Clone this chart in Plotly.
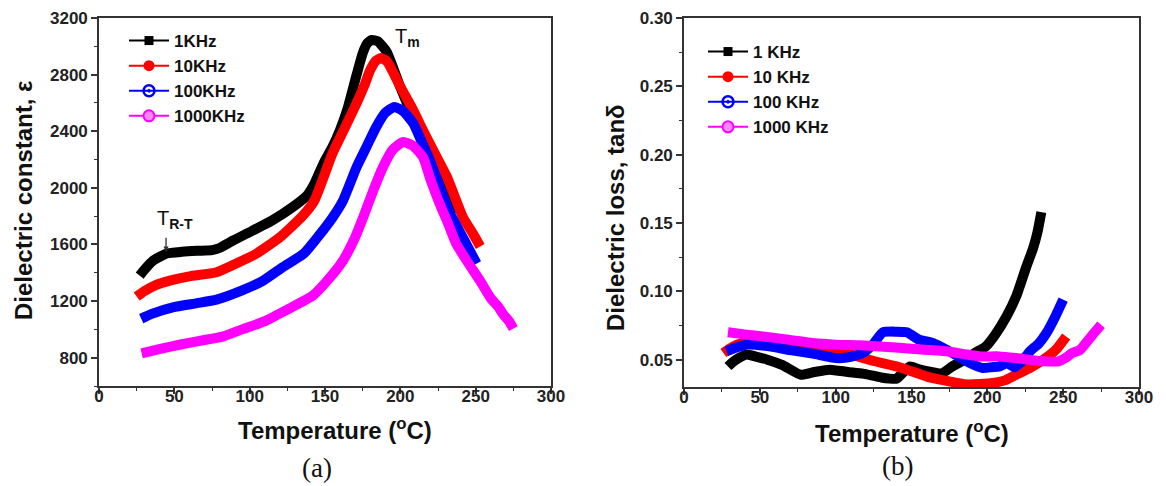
import plotly.graph_objects as go

# ---------------- data: (a) dielectric constant ----------------
t_eps_1k = [27, 30, 36, 45, 55, 65, 75, 80, 89, 100, 115, 128, 138, 143, 149, 155, 160, 165, 170, 175, 178, 181, 185, 191, 200, 207, 215, 225, 236]
eps_1k = [1380, 1420, 1487, 1536, 1548, 1555, 1560, 1575, 1628, 1687, 1770, 1860, 1945, 2030, 2173, 2290, 2410, 2560, 2760, 2950, 3020, 3045, 3035, 2960, 2711, 2530, 2330, 2080, 1820]

t_eps_10k = [25, 30, 38, 47, 60, 78, 90, 104.6, 120, 135, 143, 155, 163, 171, 176, 180, 184, 187, 191, 196, 200, 208, 215, 223, 231, 241.5, 248, 253]
eps_10k = [1232, 1270, 1315, 1345, 1375, 1404, 1460, 1536, 1650, 1800, 1911, 2244, 2420, 2598, 2720, 2832, 2900, 2917, 2895, 2800, 2714, 2560, 2407, 2240, 2076, 1793, 1680, 1586]

t_eps_100k = [28, 35, 49, 65, 78, 95, 109, 122, 136, 145, 155, 162, 171, 178, 184, 190, 196, 202, 208.6, 214, 219.6, 226, 233, 242, 250.6]
eps_100k = [1076, 1110, 1156, 1185, 1210, 1275, 1345, 1440, 1536, 1650, 1790, 1911, 2147, 2300, 2430, 2530, 2572, 2540, 2455, 2330, 2195, 2010, 1819, 1640, 1465]

t_eps_1000k = [28.3, 40, 55, 70, 82, 95, 111, 125, 142, 152, 162, 170, 175.4, 182, 188.5, 195, 201.8, 208, 215, 220, 226, 232, 237, 245, 252.8, 260, 265, 268, 272, 275]
eps_1000k = [830, 860, 895, 925, 949, 1000, 1062, 1140, 1239, 1350, 1487, 1650, 1793, 1980, 2147, 2270, 2324, 2300, 2218, 2060, 1890, 1740, 1607, 1470, 1345, 1220, 1160, 1111, 1060, 1005]

# ---------------- data: (b) dielectric loss ----------------
t_tan_1k = [29, 33, 41, 48, 55, 65, 77, 86, 96, 108, 118, 130, 140, 143, 149, 155, 163, 170, 177, 185, 192, 199, 205, 212.6, 219, 225.7, 230, 233, 235.6]
tan_1k = [0.045, 0.049, 0.0537, 0.052, 0.050, 0.046, 0.039, 0.041, 0.0427, 0.041, 0.0398, 0.037, 0.036, 0.039, 0.045, 0.043, 0.041, 0.040, 0.0451, 0.050, 0.0551, 0.0597, 0.068, 0.0816, 0.0963, 0.118, 0.131, 0.143, 0.158]

t_tan_10k = [26, 30, 35, 45, 55, 70, 85, 100, 110, 125, 142, 162, 175, 185, 195, 205, 212, 219, 228, 237, 245, 252]
tan_10k = [0.0549, 0.058, 0.061, 0.064, 0.0655, 0.063, 0.0597, 0.056, 0.0537, 0.049, 0.0445, 0.037, 0.0341, 0.032, 0.0322, 0.0332, 0.035, 0.039, 0.0439, 0.050, 0.057, 0.067]

t_tan_100k = [28, 35, 41.3, 55, 70, 85, 100, 110, 118, 125, 131, 140, 147, 155, 164, 173, 183, 191, 197, 203, 208, 213, 218, 223, 228, 234, 239, 245, 250]
tan_100k = [0.0561, 0.059, 0.061, 0.060, 0.057, 0.0544, 0.0512, 0.052, 0.055, 0.0617, 0.070, 0.0705, 0.070, 0.0646, 0.0622, 0.0573, 0.051, 0.0463, 0.0439, 0.0445, 0.0451, 0.0475, 0.0445, 0.049, 0.056, 0.062, 0.0695, 0.082, 0.0939]

t_tan_1000k = [29, 40, 52, 70, 85, 100, 115, 129, 150, 173, 185, 195, 208, 220, 235, 247, 252, 256, 261, 265, 270, 275]
tan_1000k = [0.070, 0.0685, 0.067, 0.0645, 0.0622, 0.061, 0.0605, 0.0597, 0.058, 0.0561, 0.054, 0.0524, 0.0524, 0.051, 0.049, 0.0488, 0.0515, 0.0549, 0.057, 0.0622, 0.069, 0.0756]

names_a = ["1KHz", "10KHz", "100KHz", "1000KHz"]
names_b = ["1 KHz", "10 KHz", "100 KHz", "1000 KHz"]

colors = ["#000000", "#ff0000", "#0000ff", "#ff00ff"]
symbols = ["square", "circle", "circle-open-dot", "circle"]

series_a = [(t_eps_1k, eps_1k), (t_eps_10k, eps_10k), (t_eps_100k, eps_100k), (t_eps_1000k, eps_1000k)]
series_b = [(t_tan_1k, tan_1k), (t_tan_10k, tan_10k), (t_tan_100k, tan_100k), (t_tan_1000k, tan_1000k)]

fig = go.Figure()
LW = 10
for i, (xs, ys) in enumerate(series_a):
    fig.add_trace(go.Scatter(x=xs, y=ys, mode="lines", line=dict(color=colors[i], width=LW, shape="spline", smoothing=0.5),
                             showlegend=False, xaxis="x", yaxis="y"))
for i, (xs, ys) in enumerate(series_b):
    fig.add_trace(go.Scatter(x=xs, y=ys, mode="lines", line=dict(color=colors[i], width=LW, shape="spline", smoothing=0.5),
                             showlegend=False, xaxis="x2", yaxis="y2"))

# legend entries
msz = [9, 11, 11, 11]
for leg, names, xa, ya in (("legend", names_a, "x", "y"), ("legend2", names_b, "x2", "y2")):
    for i in range(4):
        mk = dict(symbol=symbols[i], size=msz[i], color=colors[i])
        if i == 2:
            mk["line"] = dict(width=2.5, color=colors[i])
        if i == 3:
            mk["line"] = dict(width=2, color=colors[i])
            mk["color"] = "#ff88ff"
        fig.add_trace(go.Scatter(x=[None], y=[None], mode="lines+markers", name=names[i],
                                 line=dict(color=colors[i], width=2), marker=mk,
                                 xaxis=xa, yaxis=ya, legend=leg))

W, H = 1166, 486
FONT = "Liberation Sans"
tickfont = dict(family=FONT, size=17, color="#222222", weight="bold")

def xax(domain, anchor):
    return dict(domain=domain, anchor=anchor, range=[0, 300], tick0=0, dtick=50,
                ticks="outside", ticklen=6, tickwidth=1.5, tickcolor="#333333", ticklabelstandoff=-12,
                minor=dict(dtick=25, ticks="outside", ticklen=3, tickwidth=1.2, tickcolor="#333333"),
                showline=True, linewidth=1.6, linecolor="#333333", mirror=True, automargin=False,
                showgrid=False, zeroline=False, tickfont=tickfont)

def yax(domain, anchor, rng, dtick, mdtick, fmt=None):
    d = dict(domain=domain, anchor=anchor, range=rng, tick0=0, dtick=dtick,
             ticks="outside", ticklen=6, tickwidth=1.5, tickcolor="#333333",
             minor=dict(dtick=mdtick, ticks="outside", ticklen=3, tickwidth=1.2, tickcolor="#333333"),
             showline=True, linewidth=1.6, linecolor="#333333", mirror=True, automargin=False,
             showgrid=False, zeroline=False, tickfont=tickfont)
    if fmt:
        d["tickformat"] = fmt
    return d

titlefont = dict(family=FONT, size=24, color="#111111", weight="bold")
capfont = dict(family="Liberation Serif", size=27, color="#111111")

def ann(text, px, py, **kw):
    d = dict(text=text, x=px / W, y=1 - py / H, xref="paper", yref="paper",
             xanchor="center", yanchor="middle", showarrow=False)
    d.update(kw)
    return d

annotations = [
    ann("Dielectric constant, ε", 23, 201, textangle=-90, font=titlefont),
    ann("Dielectric loss, tanδ", 615, 218, textangle=-90, font=titlefont),
    ann("Temperature (<sup>o</sup>C)", 335, 429, font=titlefont),
    ann("Temperature (<sup>o</sup>C)", 912, 432, font=titlefont),
    ann("(a)", 317, 468, font=capfont),
    ann("(b)", 897, 466, font=capfont),
    ann("T<sub><b>m</b></sub>", 393, 38, xanchor="left", font=dict(family=FONT, size=20, color="#111111")),
    ann("T<sub><b>R-T</b></sub>", 155, 219, xanchor="left", font=dict(family=FONT, size=20, color="#111111")),
    dict(text=" ", x=44.5, y=1548, xref="x", yref="y", showarrow=True, ax=0, ay=-24,
         arrowhead=2, arrowsize=0.8, arrowwidth=1.3, arrowcolor="#333333"),
]

legfont = dict(family=FONT, size=17, color="#111111", weight="bold")
fig.update_layout(
    width=W, height=H, margin=dict(l=0, r=0, t=0, b=0, autoexpand=False),
    paper_bgcolor="white", plot_bgcolor="white",
    xaxis=xax([99 / W, 551 / W], "y"),
    yaxis=yax([1 - 386 / H, 1 - 18 / H], "x", [600, 3200], 400, 200),
    xaxis2=xax([684 / W, 1139 / W], "y2"),
    yaxis2=yax([1 - 387 / H, 1 - 18 / H], "x2", [0.03, 0.30], 0.05, 0.025, ".2f"),
    legend=dict(x=124 / W, y=1 - 23 / H, xanchor="left", yanchor="top", font=legfont,
                bgcolor="rgba(0,0,0,0)", tracegroupgap=0, itemwidth=40),
    legend2=dict(x=703 / W, y=1 - 34 / H, xanchor="left", yanchor="top", font=legfont,
                 bgcolor="rgba(0,0,0,0)", tracegroupgap=0, itemwidth=40),
    annotations=annotations,
    showlegend=True,
)

fig.write_html("out.html", config={"displayModeBar": False},
               post_script="document.body.style.margin='0px';document.body.style.padding='0px';")
